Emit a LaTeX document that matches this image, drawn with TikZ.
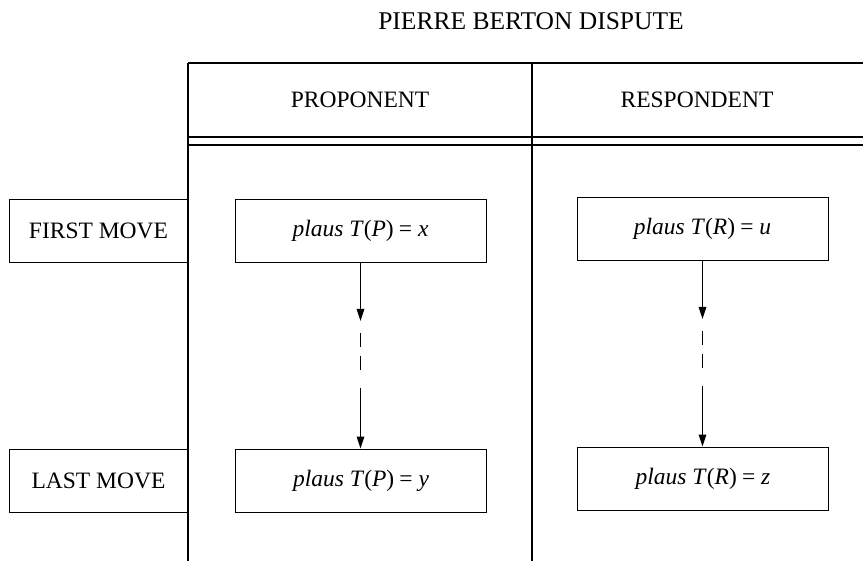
\documentclass[tikz,border=0pt]{standalone}
\usepackage{fontspec}
\setmainfont{Liberation Serif}
\usetikzlibrary{arrows.meta}
\newcommand\myeq{\hspace{0.22em}=\hspace{0.25em}}
\begin{document}
\begin{tikzpicture}[x=1pt,y=-1pt,
  font=\fontsize{23.5}{27}\selectfont,
  line width=0.9pt,
  movebox/.style={draw,line width=0.9pt,minimum width=251pt,minimum height=63pt,inner sep=0pt},
  labelbox/.style={draw,line width=0.9pt,minimum width=179pt,minimum height=63pt,inner sep=0pt},
  tableline/.style={line width=1.1pt},
  arr/.style={-{Triangle[length=12pt,width=7.5pt]},line width=1.3pt},
  dashseg/.style={line width=1.3pt,dash pattern=on 14pt off 9pt}
]
\useasboundingbox (0,0) rectangle (863,561);
% title
\node[font=\fontsize{25.5}{29}\selectfont] (title) at (531,21) {PIERRE BERTON DISPUTE};
% table
\coordinate (tl) at (188,63);
\coordinate (tm) at (532,63);
\coordinate (tr) at (863,63);
\coordinate (bl) at (188,561);
\coordinate (bm) at (532,561);
\coordinate (d1l) at (188,137);
\coordinate (d1r) at (863,137);
\coordinate (d2l) at (188,145);
\coordinate (d2r) at (863,145);
\draw[tableline] (tl) -- (tr);
\draw[tableline] (tl) -- (bl);
\draw[tableline] (tm) -- (bm);
\draw[tableline] (d1l) -- (d1r);
\draw[tableline] (d2l) -- (d2r);
\node (prop) at (360,100) {PROPONENT};
\node (resp) at (697,100) {RESPONDENT};
% row labels
\node[labelbox] (first) at (98.5,230.5) {FIRST MOVE};
\node[labelbox] (last) at (98.5,480.5) {LAST MOVE};
% move boxes
\node[movebox] (pf) at (360.5,230.5) {\textit{plaus T}(\textit{P})\myeq\textit{x}};
\node[movebox] (rf) at (702.5,229) {\textit{plaus T}(\textit{R})\myeq\textit{u}};
\node[movebox] (pl) at (361,480.5) {\textit{plaus T}(\textit{P})\myeq\textit{y}};
\node[movebox] (rl) at (703,478.5) {\textit{plaus T}(\textit{R})\myeq\textit{z}};
% connectors
\coordinate (pa) at (pf.south |- 0,321);
\coordinate (pd1) at (pf.south |- 0,333);
\coordinate (pd2) at (pf.south |- 0,372);
\coordinate (pb) at (pf.south |- 0,388);
\draw[arr] (pf.south) -- (pa);
\draw[dashseg] (pd1) -- (pd2);
\draw[arr] (pb) -- (pf.south |- pl.north);
\coordinate (ra) at (rf.south |- 0,319);
\coordinate (rd1) at (rf.south |- 0,331);
\coordinate (rd2) at (rf.south |- 0,370);
\coordinate (rb) at (rf.south |- 0,386);
\draw[arr] (rf.south) -- (ra);
\draw[dashseg] (rd1) -- (rd2);
\draw[arr] (rb) -- (rf.south |- rl.north);
\end{tikzpicture}
\end{document}
